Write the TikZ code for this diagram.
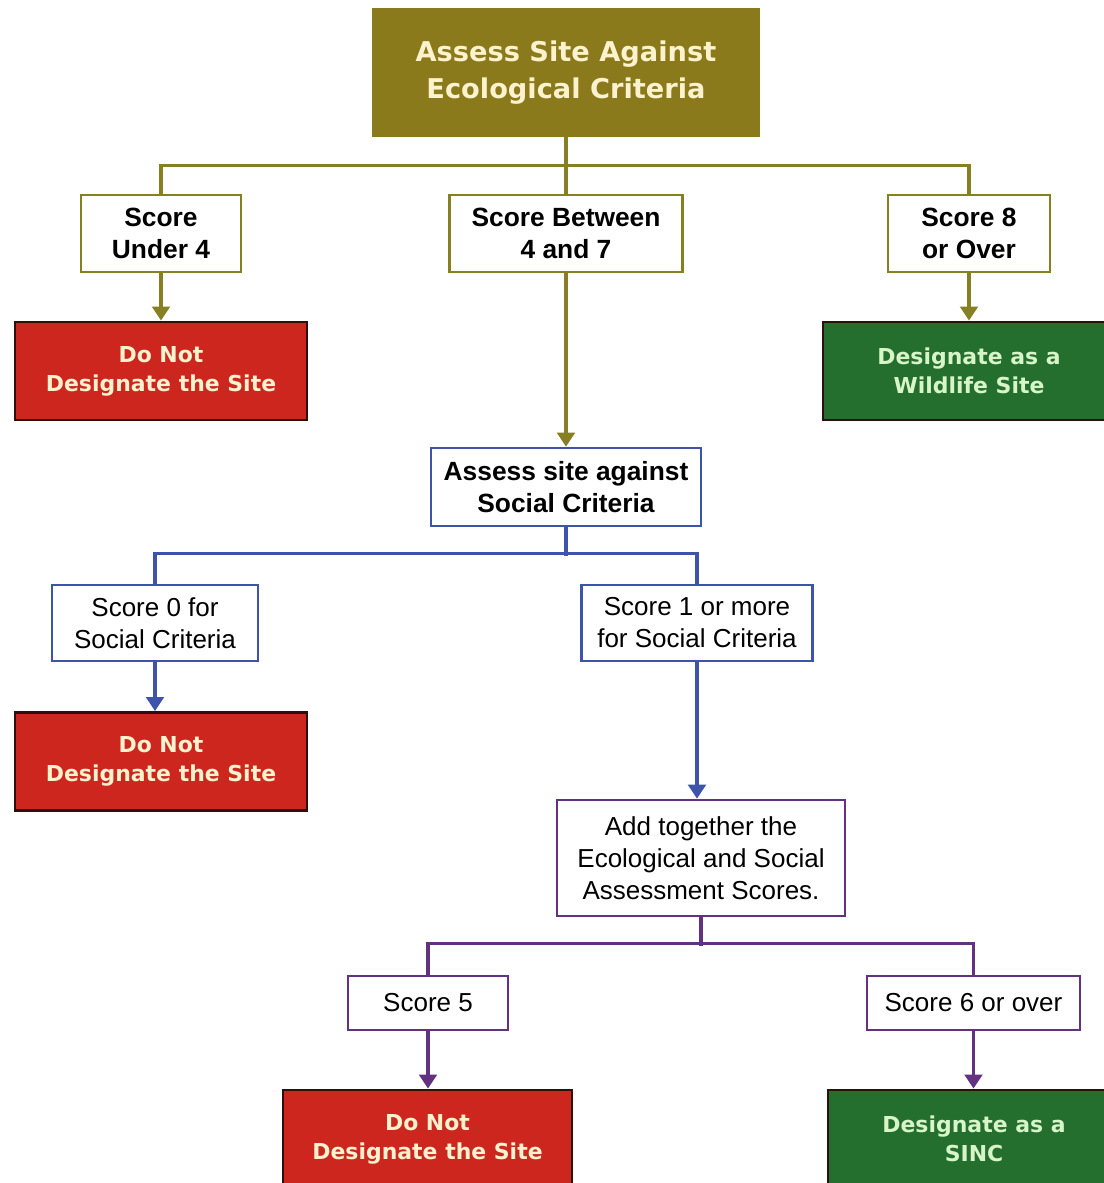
\documentclass[tikz,border=0pt]{standalone}
\usepackage{fontspec}
\setmainfont{Liberation Sans}
\newfontfamily\headfont{DejaVu Sans}
\usetikzlibrary{arrows.meta}

\definecolor{olivebox}{RGB}{139,122,28}
\definecolor{oliveline}{RGB}{135,128,35}
\definecolor{redbox}{RGB}{204,38,30}
\definecolor{greenbox}{RGB}{36,110,46}
\definecolor{blueline}{RGB}{62,84,170}
\definecolor{purpleline}{RGB}{98,50,128}
\definecolor{cream}{RGB}{252,242,205}
\definecolor{palegreen}{RGB}{215,245,200}
\definecolor{boxedge}{RGB}{45,15,12}

\tikzset{
  headbox/.style={fill=olivebox, text=cream, align=center,
    font=\headfont\bfseries\fontsize{15.5}{21.5}\selectfont},
  scorebox/.style={draw=#1, line width=1.5pt, fill=white, align=center, inner sep=0pt},
  nobox/.style={draw=boxedge, line width=1.6pt, fill=redbox, text=cream, align=center,
    minimum width=5.84cm, minimum height=1.96cm,
    font=\headfont\bfseries\fontsize{12.5}{16.5}\selectfont},
  yesbox/.style={nobox, fill=greenbox, text=palegreen},
  link/.style={draw=#1, line width=1.9pt},
  arrowlink/.style={link=#1, -{Triangle[width=10pt,length=8pt]}},
  bold/.style={font=\bfseries\fontsize{15}{18.5}\selectfont},
  plain/.style={font=\fontsize{14.8}{18.2}\selectfont}
}

\begin{document}
\begin{tikzpicture}[x=0.02cm, y=-0.02cm]
\clip (0,0) rectangle (1104,1183);
\fill[white] (0,0) rectangle (1104,1183);

% ecological stage
\node[headbox, minimum width=7.76cm, minimum height=2.58cm] (eco) at (566,72.5)
  {Assess Site Against\\Ecological Criteria};
\node[scorebox=oliveline, bold, minimum width=3.2cm, minimum height=1.54cm] (under) at (161,233.5)
  {Score\\Under 4};
\node[scorebox=oliveline, bold, minimum width=4.66cm, minimum height=1.54cm] (between) at (566,233.5)
  {Score Between\\4 and 7};
\node[scorebox=oliveline, bold, minimum width=3.24cm, minimum height=1.54cm] (over) at (969,233.5)
  {Score 8\\or Over};
\node[nobox] (noA) at (161,371) {Do Not\\Designate the Site};
\node[yesbox] (wild) at (969,371) {Designate as a\\Wildlife Site};

% social stage
\node[scorebox=blueline, bold, minimum width=5.4cm, minimum height=1.56cm] (social) at (566,487)
  {Assess site against\\Social Criteria};
\node[scorebox=blueline, plain, minimum width=4.12cm, minimum height=1.52cm] (zero) at (155,623)
  {Score 0 for\\Social Criteria};
\node[scorebox=blueline, plain, minimum width=4.62cm, minimum height=1.52cm] (more) at (697,623)
  {Score 1 or more\\for Social Criteria};
\node[nobox] (noB) at (161,761.5) {Do Not\\Designate the Site};

% combined stage
\node[scorebox=purpleline, plain, minimum width=5.76cm, minimum height=2.32cm] (sum) at (701,858)
  {Add together the\\Ecological and Social\\Assessment Scores.};
\node[scorebox=purpleline, plain, minimum width=3.2cm, minimum height=1.08cm] (five) at (428,1003)
  {Score 5};
\node[scorebox=purpleline, plain, minimum width=4.26cm, minimum height=1.08cm] (six) at (973.5,1003)
  {Score 6 or over};
\node[nobox, minimum width=5.78cm] (noC) at (427.5,1139) {Do Not\\Designate the Site};
\node[yesbox] (sinc) at (974,1139) {Designate as a\\SINC};

% connectors
\draw[link=oliveline] (eco.south) -- (between.north);
\draw[link=oliveline] (under.north) -- ++(0,-28) -| (over.north);
\draw[arrowlink=oliveline] (under.south) -- (under.south |- noA.north);
\draw[arrowlink=oliveline] (over.south) -- (over.south |- wild.north);
\draw[arrowlink=oliveline] (between.south) -- (social.north);

\draw[link=blueline] (social.south) -- ++(0,29);
\draw[link=blueline] (zero.north) -- ++(0,-30) -| (more.north);
\draw[arrowlink=blueline] (zero.south) -- (zero.south |- noB.north);
\draw[arrowlink=blueline] (more.south) -- (more.south |- sum.north);

\draw[link=purpleline] (sum.south) -- ++(0,29);
\draw[link=purpleline] (five.north) -- ++(0,-31) -| (six.north);
\draw[arrowlink=purpleline] (five.south) -- (five.south |- noC.north);
\draw[arrowlink=purpleline] (six.south) -- (six.south |- sinc.north);
\end{tikzpicture}
\end{document}
